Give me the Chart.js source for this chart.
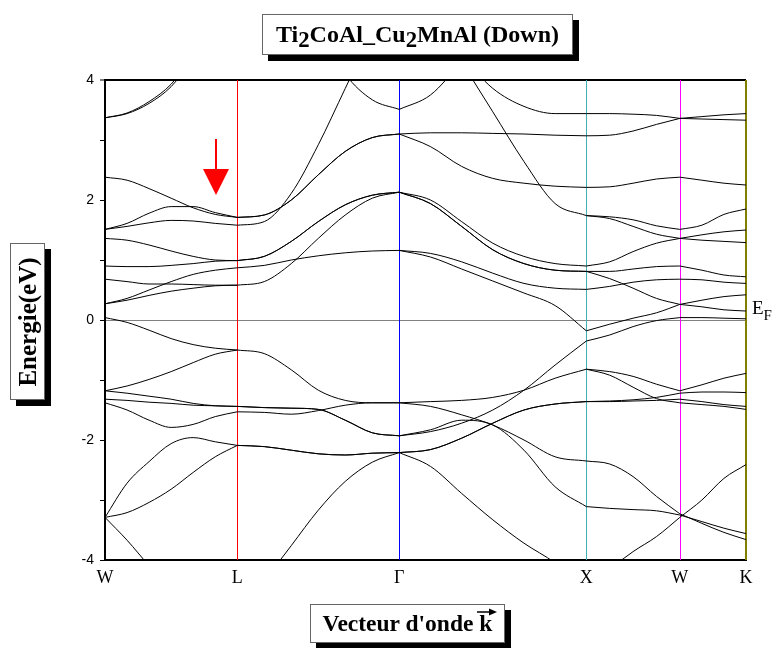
<!DOCTYPE html>
<html><head><meta charset="utf-8">
<script src="https://cdn.jsdelivr.net/npm/chart.js@4"></script>
<style>
html,body{margin:0;padding:0;background:#fff;}
body{width:779px;height:648px;overflow:hidden;position:relative;font-family:"Liberation Serif","Times New Roman",serif;}
#c{position:absolute;left:0;top:0;}
.box{position:absolute;background:#fff;border:1px solid #666;box-shadow:6px 6px 0 #000;font-weight:bold;color:#000;display:flex;align-items:center;justify-content:center;white-space:nowrap;box-sizing:border-box;}
.sb{position:relative;top:5px;font-size:0.95em;}
#ylab span{display:inline-block;transform:rotate(-90deg);}
#ef{position:absolute;left:752px;top:297px;font-size:19px;color:#000;}
#ef sub{font-size:15px;position:relative;top:1px;}
</style></head><body>
<canvas id="c" width="779" height="648"></canvas>
<div class="box" id="title" style="left:262px;top:14px;width:311px;height:41px;font-size:24px">Ti<span class="sb">2</span>CoAl_Cu<span class="sb">2</span>MnAl (Down)</div>
<div class="box" id="ylab" style="left:10px;top:243px;width:35px;height:157px;font-size:25px"><span>Energie(eV)</span></div>
<div class="box" id="xlab" style="left:310px;top:604px;width:195px;height:39px;font-size:23.5px"><span>Vecteur d'onde <span style="position:relative">k<svg style="position:absolute;left:-3px;top:-3px" width="22" height="10"><line x1="1" y1="5" x2="14" y2="5" stroke="#000" stroke-width="1.5"/><polygon points="13,1.5 21,5 13,8.5" fill="#000"/></svg></span></span></div>
<div id="ef">E<sub>F</sub></div>
<svg style="position:absolute;left:195px;top:130px" width="40" height="70"><line x1="21" y1="9" x2="21" y2="42" stroke="#ff0000" stroke-width="2"/><polygon points="8,39 34,39 21,65" fill="#ff0000"/></svg>
<script>
// high-symmetry points along the k-path
const kPath = [0, 0.7071, 1.5731, 2.5731, 3.0731, 3.4267];
const kLabels = ['W', 'L', 'Γ', 'X', 'W', 'K'];
const vLineColors = ['#000000', '#ff0000', '#0000ff', '#40b0b0', '#ff00ff', '#808000'];
const yTickValues = [-4, -3, -2, -1, 0, 1, 2, 3, 4];

// sample k positions in each segment
const kWL = [0, 0.1179, 0.2357, 0.3536, 0.4714, 0.5893, 0.7071];
const kLG = [0.7071, 0.8514, 0.9958, 1.1401, 1.2844, 1.4288, 1.5731];
const kGX = [1.5731, 1.7398, 1.9064, 2.0731, 2.2398, 2.4064, 2.5731];
const kXW = [2.5731, 2.6981, 2.8231, 2.9481, 3.0731];
const kWK = [3.0731, 3.1910, 3.3088, 3.4267];

// band energies (eV) per segment
const bandsWL = [
  [3.37, 3.44, 3.61, 3.89, 4.35, null, null],
  [3.37, 3.45, 3.64, 3.93, 4.40, null, null],
  [2.38, 2.33, 2.19, 2.03, 1.87, 1.76, 1.71],
  [1.51, 1.61, 1.78, 1.89, 1.89, 1.79, 1.71],
  [1.51, 1.56, 1.62, 1.66, 1.65, 1.61, 1.58],
  [1.36, 1.33, 1.25, 1.15, 1.06, 1.00, 0.99],
  [0.90, 0.89, 0.89, 0.91, 0.94, 0.98, 0.99],
  [0.68, 0.64, 0.60, 0.60, 0.59, 0.58, 0.58],
  [0.27, 0.36, 0.50, 0.64, 0.76, 0.83, 0.87],
  [0.27, 0.33, 0.41, 0.48, 0.53, 0.57, 0.58],
  [0.04, -0.04, -0.17, -0.31, -0.41, -0.47, -0.50],
  [-1.18, -1.10, -0.99, -0.86, -0.71, -0.57, -0.50],
  [-1.18, -1.22, -1.27, -1.32, -1.39, -1.43, -1.44],
  [-1.32, -1.34, -1.37, -1.39, -1.42, -1.43, -1.44],
  [-1.38, -1.50, -1.67, -1.79, -1.74, -1.61, -1.53],
  [-3.29, -2.72, -2.36, -2.06, -1.96, -2.03, -2.09],
  [-3.29, -3.21, -3.04, -2.82, -2.54, -2.28, -2.09],
  [-3.29, -3.67, -4.10, null, null, null, null]
];
const bandsLG = [
  [1.58, 1.64, 2.11, 2.92, 3.86, 4.80, null],
  [1.71, 1.75, 2.00, 2.42, 2.81, 3.04, 3.10],
  [1.71, 1.75, 2.00, 2.42, 2.81, 3.04, 3.10],
  [0.99, 1.06, 1.31, 1.64, 1.92, 2.08, 2.13],
  [0.99, 1.06, 1.31, 1.64, 1.92, 2.08, 2.13],
  [0.58, 0.64, 0.94, 1.36, 1.75, 2.03, 2.13],
  [0.87, 0.91, 1.00, 1.07, 1.12, 1.15, 1.16],
  [null, null, null, 4.90, 4.10, 3.67, 3.51],
  [-0.50, -0.56, -0.83, -1.17, -1.34, -1.38, -1.38],
  [-1.44, -1.46, -1.47, -1.49, -1.67, -1.88, -1.93],
  [-1.44, -1.46, -1.47, -1.49, -1.67, -1.88, -1.93],
  [-1.53, -1.54, -1.57, -1.51, -1.42, -1.38, -1.38],
  [-2.09, -2.11, -2.17, -2.23, -2.25, -2.22, -2.21],
  [-2.09, -2.11, -2.17, -2.23, -2.25, -2.22, -2.21],
  [null, -4.35, -3.76, -3.17, -2.69, -2.37, -2.21]
];
const bandsGX = [
  [3.51, 3.75, 4.30, null, null, null, null],
  [null, null, 4.40, 3.86, 3.56, 3.44, 3.44],
  [null, null, 4.30, 3.47, 2.64, 1.94, 1.74],
  [3.10, 3.12, 3.12, 3.11, 3.10, 3.08, 3.07],
  [3.10, 2.89, 2.56, 2.36, 2.28, 2.23, 2.21],
  [2.13, 2.00, 1.64, 1.28, 1.06, 0.94, 0.90],
  [2.13, 1.94, 1.56, 1.17, 0.94, 0.83, 0.81],
  [2.13, 1.94, 1.56, 1.17, 0.94, 0.83, 0.81],
  [1.16, 1.11, 0.97, 0.78, 0.61, 0.53, 0.51],
  [1.16, 1.05, 0.85, 0.65, 0.45, 0.24, -0.18],
  [-1.38, -1.36, -1.34, -1.29, -1.17, -0.97, -0.82],
  [-1.93, -1.86, -1.72, -1.50, -1.17, -0.75, -0.35],
  [-2.21, -2.16, -1.97, -1.72, -1.50, -1.40, -1.36],
  [-2.21, -2.16, -1.97, -1.72, -1.50, -1.40, -1.36],
  [-1.38, -1.44, -1.58, -1.75, -2.00, -2.28, -2.35],
  [-1.93, -1.83, -1.67, -1.75, -2.17, -2.78, -3.11],
  [-2.21, -2.44, -2.89, -3.33, -3.72, -4.05, -4.50]
];
const bandsXW = [
  [3.44, 3.44, 3.43, 3.41, 3.36],
  [3.07, 3.08, 3.15, 3.26, 3.36],
  [2.21, 2.22, 2.28, 2.35, 2.38],
  [1.74, 1.72, 1.67, 1.57, 1.51],
  [1.74, 1.69, 1.56, 1.43, 1.36],
  [0.90, 0.97, 1.14, 1.28, 1.36],
  [0.81, 0.81, 0.85, 0.89, 0.90],
  [0.81, 0.69, 0.53, 0.36, 0.26],
  [0.51, 0.56, 0.63, 0.67, 0.68],
  [-0.18, -0.07, 0.03, 0.12, 0.26],
  [-0.35, -0.25, -0.11, -0.01, 0.04],
  [-0.82, -0.86, -0.94, -1.07, -1.18],
  [-0.82, -0.92, -1.12, -1.31, -1.38],
  [-1.36, -1.36, -1.35, -1.34, -1.32],
  [-1.36, -1.35, -1.33, -1.29, -1.22],
  [-2.35, -2.40, -2.61, -2.94, -3.23],
  [-3.11, -3.14, -3.16, -3.18, -3.25],
  [null, -4.15, -3.86, -3.61, -3.29]
];
const bandsWK = [
  [3.36, 3.39, 3.42, 3.44],
  [3.36, 3.35, 3.34, 3.33],
  [2.38, 2.33, 2.28, 2.25],
  [1.51, 1.58, 1.76, 1.85],
  [1.36, 1.42, 1.47, 1.50],
  [1.36, 1.33, 1.31, 1.29],
  [0.90, 0.83, 0.75, 0.72],
  [0.68, 0.67, 0.63, 0.61],
  [0.26, 0.33, 0.39, 0.42],
  [0.26, 0.22, 0.17, 0.15],
  [0.04, 0.04, 0.03, 0.02],
  [-1.18, -1.08, -0.97, -0.89],
  [-1.38, -1.41, -1.44, -1.49],
  [-1.32, -1.36, -1.41, -1.44],
  [-1.22, -1.20, -1.20, -1.21],
  [-3.23, -3.39, -3.54, -3.66],
  [-3.25, -3.36, -3.47, -3.56],
  [-3.29, -3.00, -2.64, -2.41]
];

const segments = [[kWL, bandsWL], [kLG, bandsLG], [kGX, bandsGX], [kXW, bandsXW], [kWK, bandsWK]];
const datasets = [];
segments.forEach(([ks, bands]) => {
  bands.forEach(b => {
    datasets.push({
      data: ks.map((k, i) => ({x: k, y: b[i]})),
      borderColor: '#000',
      borderWidth: 1,
      pointRadius: 0,
      fill: false,
      spanGaps: false,
      cubicInterpolationMode: 'monotone'
    });
  });
});

// vertical lines at the high-symmetry points, placed through the x scale
const symLines = {
  id: 'symLines',
  beforeDatasetsDraw(chart) {
    const {ctx, chartArea: a, scales: {x}} = chart;
    ctx.save();
    kPath.forEach((k, i) => {
      if (i === 0) return;
      const last = i === kPath.length - 1;
      const px = Math.round(x.getPixelForValue(k)) + (last ? 0 : 0.5);
      ctx.strokeStyle = vLineColors[i];
      ctx.lineWidth = last ? 2 : 1;
      ctx.beginPath();
      ctx.moveTo(px, a.top);
      ctx.lineTo(px, a.bottom);
      ctx.stroke();
    });
    ctx.restore();
  }
};

new Chart(document.getElementById('c'), {
  type: 'line',
  data: {datasets},
  plugins: [symLines],
  options: {
    responsive: false,
    animation: false,
    devicePixelRatio: 1,
    layout: {padding: {left: 65, right: 33, top: 80, bottom: 48}},
    plugins: {legend: {display: false}, tooltip: {enabled: false}},
    scales: {
      x: {
        type: 'linear', min: kPath[0], max: kPath[kPath.length - 1],
        afterBuildTicks: s => { s.ticks = kPath.map(v => ({value: v})); },
        afterFit: s => { s.height = 40; },
        ticks: {
          autoSkip: false, maxRotation: 0, padding: 7, color: '#000',
          font: {family: 'Liberation Serif', size: 18},
          callback: (v, i) => kLabels[i]
        },
        grid: {display: false, drawTicks: false},
        border: {color: '#000', width: 2}
      },
      y: {
        min: -4, max: 4,
        afterBuildTicks: s => { s.ticks = yTickValues.map(v => ({value: v})); },
        afterFit: s => { s.width = 40; },
        ticks: {
          padding: 6, color: '#000',
          font: {family: 'Liberation Sans', size: 14},
          callback: v => (v % 2 === 0 ? String(v) : '')
        },
        grid: {
          color: ctx => (ctx.tick && ctx.tick.value === 0 ? '#808080' : (ctx.tick && ctx.tick.value === 4 ? '#000' : 'rgba(0,0,0,0)')),
          lineWidth: ctx => (ctx.tick && ctx.tick.value === 4 ? 2 : 1),
          tickColor: '#000', tickLength: 5, tickWidth: 1, drawTicks: true
        },
        border: {color: '#000', width: 2}
      }
    }
  }
});
</script>
</body></html>
